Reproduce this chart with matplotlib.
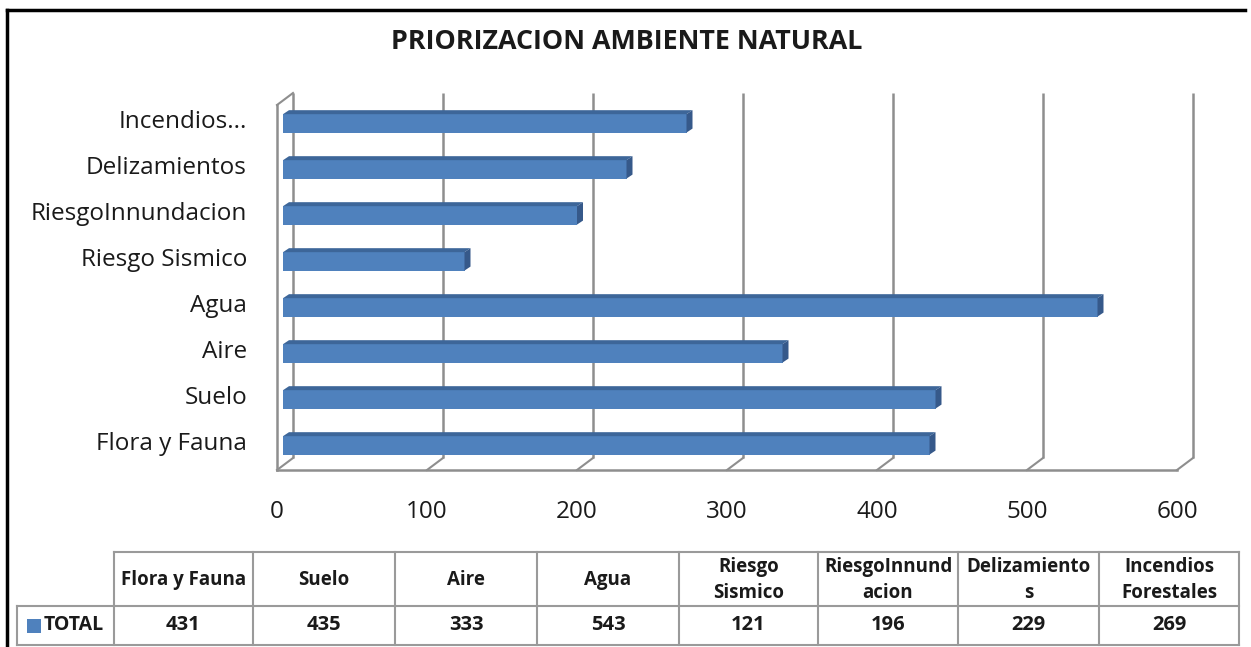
import matplotlib
matplotlib.use("Agg")
import matplotlib.pyplot as plt
from matplotlib.patches import Polygon, Rectangle
from matplotlib.transforms import offset_copy
import numpy as np

# ---------------- data ----------------
title = "PRIORIZACION AMBIENTE NATURAL"
categories = ["Flora y Fauna", "Suelo", "Aire", "Agua", "Riesgo Sismico",
              "RiesgoInnundacion", "Delizamientos", "Incendios..."]
table_headers = ["Flora y Fauna", "Suelo", "Aire", "Agua", "Riesgo\nSismico",
                 "RiesgoInnund\nacion", "Delizamiento\ns", "Incendios\nForestales"]
values = [431, 435, 333, 543, 121, 196, 229, 269]
series_name = "TOTAL"
x_ticks = [0, 100, 200, 300, 400, 500, 600]

FONT = "Open Sans"
plt.rcParams['font.family'] = [FONT, 'DejaVu Sans']

W, H = 1251, 647
fig = plt.figure(figsize=(W / 100, H / 100), dpi=100)
fig.patch.set_facecolor("white")

def fx(px):
    return px / W

def fy(py):
    return 1 - py / H

# main axes: x 0..600 -> px 277..1177 ; y unit = 46 px, bar 0 centre at py 444
unit = 46.0
y_bot_px = 470
y_min = -(y_bot_px - 444) / unit
y_max = 7.5
top_px = 444 - unit * y_max
ax = fig.add_axes([fx(277), fy(y_bot_px), (1177 - 277) / W, (y_bot_px - top_px) / H])
ax.set_xlim(0, 600)
ax.set_ylim(y_min, y_max)
ax.axis("off")

n = len(categories)
ypos = np.arange(n)

grid_col = "#8e8e8e"
DX, DY = 16, 12
back = offset_copy(ax.transData, fig=fig, x=DX, y=DY, units="dots")
wall_top = (444 - 105) / unit

for t in x_ticks:
    ax.plot([t, t], [y_min, wall_top], transform=back, color=grid_col, lw=1.8,
            zorder=1, clip_on=False, solid_capstyle="butt")
tf = ax.transData
for t in x_ticks:
    x0, y0 = tf.transform((t, y_min))
    ax.plot([x0, x0 + DX], [y0, y0 + DY], transform=None, color=grid_col, lw=1.5,
            zorder=1, clip_on=False)
ax.plot([0, 600], [y_min, y_min], color=grid_col, lw=1.8, zorder=1, clip_on=False)
ax.plot([0, 0], [y_min, wall_top], color=grid_col, lw=1.8, zorder=1, clip_on=False)
x0, y0 = tf.transform((0, wall_top))
ax.plot([x0, x0 + DX], [y0, y0 + DY], transform=None, color=grid_col, lw=1.5,
        zorder=1, clip_on=False)

# bars
bar_tr = offset_copy(ax.transData, fig=fig, x=6, y=0, units="dots")
front_col = "#4f81bd"
top_col = "#3d6699"
side_col = "#36598a"
h = 0.40
bdx, bdy = 6 / 1.5, 4 / unit
for yi, v in zip(ypos, values):
    c = yi - 0.03
    b0, b1 = c - h / 2, c + h / 2
    ax.add_patch(Rectangle((0, b0), v, h, facecolor=front_col, edgecolor="none",
                           transform=bar_tr, zorder=3))
    ax.add_patch(Polygon([(0, b1), (v, b1), (v + bdx, b1 + bdy), (bdx, b1 + bdy)],
                         closed=True, facecolor=top_col, edgecolor="none",
                         transform=bar_tr, zorder=3))
    ax.add_patch(Polygon([(v, b0), (v, b1), (v + bdx, b1 + bdy), (v + bdx, b0 + bdy)],
                         closed=True, facecolor=side_col, edgecolor="none",
                         transform=bar_tr, zorder=3))

for yi, lab in zip(ypos, categories):
    ax.text(-20, yi, lab, ha="right", va="center", fontsize=17.5, color="#1a1a1a",
            clip_on=False)
for t in x_ticks:
    ax.text(t, y_min - 42 / unit, str(t), ha="center", va="center", fontsize=17.5,
            color="#1a1a1a", clip_on=False)

fig.text(fx(627), fy(42), title, ha="center", va="center", fontsize=19.4,
         fontweight="bold", color="#1a1a1a")

# ---------------- data table ----------------
tax = fig.add_axes([0, 0, 1, 1])
tax.set_xlim(0, W)
tax.set_ylim(H, 0)
tax.axis("off")
col_edges = [17, 114, 253, 395, 537, 679, 818, 958, 1099, 1239]
row_edges = [552, 606, 645]
tcol = "#9a9a9a"
tax.plot([col_edges[1], col_edges[-1]], [row_edges[0]] * 2, color=tcol, lw=1.5)
tax.plot([col_edges[0], col_edges[-1]], [row_edges[1]] * 2, color=tcol, lw=1.5)
tax.plot([col_edges[0], col_edges[-1]], [row_edges[2]] * 2, color=tcol, lw=1.5)
tax.plot([col_edges[0]] * 2, [row_edges[1], row_edges[2]], color=tcol, lw=1.5)
for xe in col_edges[1:]:
    tax.plot([xe] * 2, [row_edges[0], row_edges[2]], color=tcol, lw=1.5)
for i, (hd, v) in enumerate(zip(table_headers, values)):
    xc = (col_edges[i + 1] + col_edges[i + 2]) / 2
    tax.text(xc, (row_edges[0] + row_edges[1]) / 2 + 1, hd, ha="center", va="center",
             fontsize=13.5, fontweight="bold", color="#1a1a1a", linespacing=1.4)
    tax.text(xc, (row_edges[1] + row_edges[2]) / 2, str(v), ha="center", va="center",
             fontsize=14.5, fontweight="bold", color="#1a1a1a")
tax.add_patch(Rectangle((27, 619), 14, 14, facecolor=front_col, edgecolor="none"))
tax.text(44, (row_edges[1] + row_edges[2]) / 2, series_name, ha="left", va="center",
         fontsize=14, fontweight="bold", color="#1a1a1a")

tax.plot([7, 1245], [10, 10], color="black", lw=2.5)
tax.plot([7, 7], [10, H], color="black", lw=2.5)

fig.savefig("out.png", dpi=100)
